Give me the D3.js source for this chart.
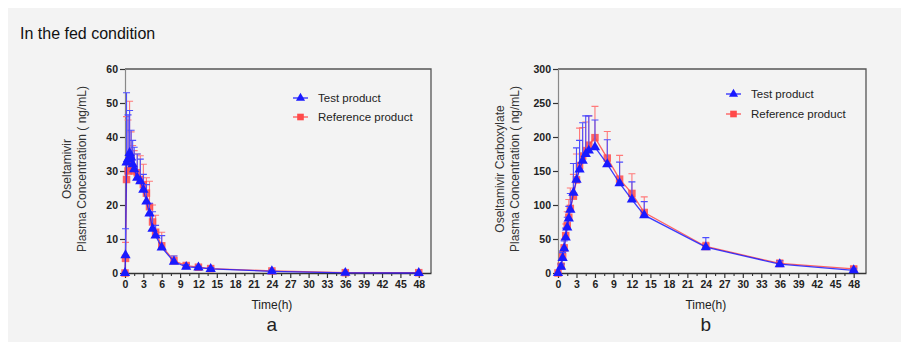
<!DOCTYPE html>
<html>
<head>
<meta charset="utf-8">
<script src="https://cdn.jsdelivr.net/npm/d3@7"></script>
<style>
  body { margin: 0; background: #fff; }
  svg { display: block; font-family: "Liberation Sans", Arial, sans-serif; }
</style>
</head>
<body>
<svg id="chart"></svg>
<script>
// Panel a: Oseltamivir
const timesA = [0, 0.083, 0.25, 0.5, 0.75, 1, 1.25, 1.5, 2, 2.5, 3, 3.5, 4, 4.5, 5, 6, 8, 10, 12, 14, 24, 36, 48];
const testA = [0, 5.2, 32.5, 33.5, 35.3, 34, 32, 30.5, 28, 27, 24.5, 21, 17.5, 13, 11, 7.5, 3.3, 1.8, 1.6, 1.2, 0.5, 0.05, 0];
const testSdA = [0, 7.8, 20.5, 13, 12.5, 8, 7, 6.5, 7, 6.5, 4.5, 5, 3, 5, 3, 3.5, 1.7, 0.7, 0.4, 0.4, 0.3, 0.05, 0];
const refA = [0, 4.3, 27.5, 30, 33, 33.5, 31, 30, 29.5, 27.5, 26, 23.5, 19.5, 15, 12, 8, 3.6, 2.2, 1.7, 1.3, 0.6, 0.1, 0.1];
const refSdA = [0, 4.7, 18.5, 15, 17.5, 8, 6.5, 6, 5.5, 7, 6, 4.5, 7.5, 5, 5, 4, 1.4, 0.5, 0.4, 0.3, 0.3, 0.1, 0.1];

// Panel b: Oseltamivir Carboxylate
const timesB = [0, 0.5, 0.75, 1, 1.25, 1.5, 1.75, 2, 2.5, 3, 3.5, 4, 4.5, 5, 6, 8, 10, 12, 14, 24, 36, 48];
const testB = [0, 9, 22, 36, 52, 67, 80, 93, 118, 137, 152, 165, 175, 180, 185, 160, 132, 108, 85, 38, 13, 4];
const testSdB = [0, 4, 8, 11, 14, 15, 18, 24, 43, 47, 43, 56, 56, 51, 40, 36, 31, 26, 20, 14, 5, 3];
const refB = [0, 10, 24, 37, 55, 70, 82, 95, 113, 137, 158, 172, 180, 188, 199, 169, 138, 117, 89, 39, 14, 6];
const refSdB = [0, 4, 8, 13, 17, 20, 26, 30, 32, 38, 55, 42, 42, 43, 46, 39, 35, 29, 23, 6, 5, 3];

const xTicks = d3.range(0, 49, 3);
const legendNames = ['Test product', 'Reference product'];

const W = 901, H = 342;
const blue = '#1a1aff', red = '#ff4a4a';

const svg = d3.select('#chart').attr('width', W).attr('height', H);

svg.append('rect').attr('x', 8).attr('y', 8).attr('width', W - 8).attr('height', H - 8).attr('fill', '#f3f3f3');

svg.append('text')
  .attr('x', 20).attr('y', 39)
  .attr('font-size', 16).attr('fill', '#111')
  .text('In the fed condition');

function panel(opt) {
  const x = d3.scaleLinear().domain([0, 50]).range([opt.left, opt.right]);
  const y = d3.scaleLinear().domain([0, opt.yMax]).range([273, 69]);
  const g = svg.append('g');

  // frame top/right
  g.append('path')
    .attr('d', `M${opt.left},${y(opt.yMax)}H${opt.right}V${y(0)}`)
    .attr('fill', 'none').attr('stroke', '#555').attr('stroke-width', 1.3);

  // y axis
  const ya = g.append('g')
    .attr('transform', `translate(${opt.left},0)`)
    .call(d3.axisLeft(y).tickValues(opt.yTicks).tickSize(5).tickPadding(2));
  ya.select('.domain').attr('stroke', '#888').attr('stroke-width', 1.2);
  ya.selectAll('.tick line').attr('stroke', '#333').attr('stroke-width', 1.2);
  ya.selectAll('text').attr('font-size', 10.5).attr('font-weight', 'bold').attr('fill', '#222')
    .attr('font-family', '"Liberation Sans", Arial, sans-serif');

  // x axis minor ticks
  g.append('g')
    .attr('transform', `translate(0,${y(0)})`)
    .call(d3.axisBottom(x).tickValues(d3.range(1.5, 49, 3)).tickSize(3).tickFormat(''))
    .call(a => a.select('.domain').remove())
    .selectAll('.tick line').attr('stroke', '#333').attr('stroke-width', 1.1);

  const xa = g.append('g')
    .attr('transform', `translate(0,${y(0)})`)
    .call(d3.axisBottom(x).tickValues(xTicks).tickSize(5).tickPadding(3).tickSizeOuter(0));
  xa.select('.domain').attr('stroke', '#333').attr('stroke-width', 1.3);
  xa.selectAll('.tick line').attr('stroke', '#333').attr('stroke-width', 1.2);
  xa.selectAll('text').attr('font-size', 10.5).attr('font-weight', 'bold').attr('fill', '#222')
    .attr('font-family', '"Liberation Sans", Arial, sans-serif');

  // axis titles
  g.append('text').attr('x', (x(0) + x(48)) / 2).attr('y', 309)
    .attr('text-anchor', 'middle').attr('font-size', 12).attr('fill', '#222').text('Time(h)');
  g.append('text').attr('x', (x(0) + x(48)) / 2).attr('y', 331)
    .attr('text-anchor', 'middle').attr('font-size', 19).attr('fill', '#222').text(opt.letter);

  opt.yTitle.forEach((t, i) => {
    g.append('text')
      .attr('transform', `translate(${opt.yTitleX + i * 15},169) rotate(-90)`)
      .attr('text-anchor', 'middle').attr('font-size', 12).attr('fill', '#333')
      .text(t);
  });

  const series = [
    { t: opt.times, v: opt.ref, sd: opt.refSd, color: red, bar: '#ff7a7a', shape: d3.symbolSquare, size: 56, op: 0.85 },
    { t: opt.times, v: opt.test, sd: opt.testSd, color: blue, bar: '#4d4dff', shape: d3.symbolTriangle, size: 46, op: 1 }
  ];

  series.forEach(s => {
    const pts = s.t.map((t, i) => ({ t, v: s.v[i], sd: s.sd[i] }));
    g.append('path').datum(pts)
      .attr('fill', 'none').attr('stroke', s.color).attr('stroke-width', 1.3).attr('opacity', 0.85)
      .attr('d', d3.line().x(d => x(d.t)).y(d => y(d.v)));
    const eb = g.append('g').attr('stroke', s.bar).attr('stroke-width', 1.1).attr('fill', 'none');
    eb.selectAll('path').data(pts.filter(d => d.sd > 0)).join('path')
      .attr('d', d => `M${x(d.t)},${y(d.v)}V${y(d.v + d.sd)}M${x(d.t) - 3.5},${y(d.v + d.sd)}H${x(d.t) + 3.5}`);
    g.selectAll(null).data(pts).join('path')
      .attr('transform', d => `translate(${x(d.t)},${y(d.v)})`)
      .attr('d', d3.symbol().type(s.shape).size(s.size))
      .attr('fill', s.color).attr('opacity', s.op);
  });

  // legend
  const legend = [
    { name: legendNames[0], color: blue, shape: d3.symbolTriangle, size: 36 },
    { name: legendNames[1], color: red, shape: d3.symbolSquare, size: 44 }
  ];
  legend.forEach((l, i) => {
    const ly = opt.legendY + i * opt.legendGap;
    g.append('line').attr('x1', opt.legendX).attr('x2', opt.legendX + 15)
      .attr('y1', ly).attr('y2', ly).attr('stroke', l.color).attr('stroke-width', 1.2);
    g.append('path').attr('transform', `translate(${opt.legendX + 7.5},${ly})`)
      .attr('d', d3.symbol().type(l.shape).size(l.size)).attr('fill', l.color);
    g.append('text').attr('x', opt.legendX + 25).attr('y', ly + 4)
      .attr('font-size', 11.5).attr('fill', '#222').text(l.name);
  });
}

panel({
  left: 125, right: 431, yMax: 60, yTicks: d3.range(0, 61, 10),
  times: timesA, test: testA, testSd: testSdA, ref: refA, refSd: refSdA,
  yTitle: ['Oseltamivir', 'Plasma Concentration ( ng/mL)'], yTitleX: 71,
  legendX: 293, legendY: 98, legendGap: 19, letter: 'a'
});

panel({
  left: 558, right: 866, yMax: 300, yTicks: d3.range(0, 301, 50),
  times: timesB, test: testB, testSd: testSdB, ref: refB, refSd: refSdB,
  yTitle: ['Oseltamivir Carboxylate', 'Plasma Concentration ( ng/mL)'], yTitleX: 504,
  legendX: 726, legendY: 94, legendGap: 20, letter: 'b'
});
</script>
</body>
</html>
